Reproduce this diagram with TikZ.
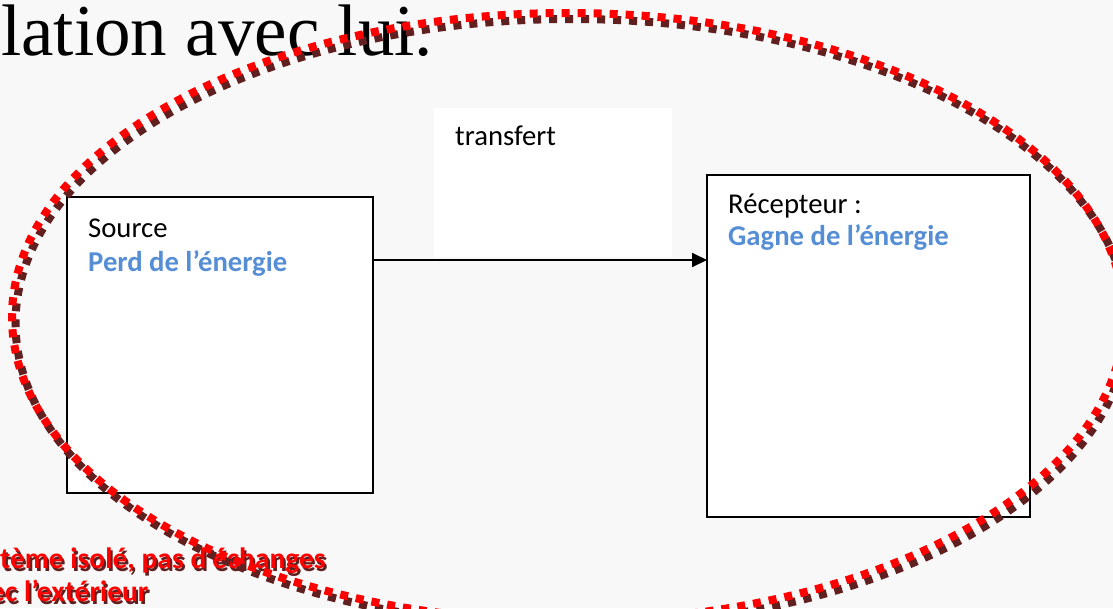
\documentclass[tikz,border=0pt]{standalone}
\usepackage{fontspec}
\setmainfont{Carlito}
\newfontfamily\bigserif{Liberation Serif}
\usetikzlibrary{arrows.meta}
\definecolor{bg}{RGB}{248,248,248}
\definecolor{ered}{RGB}{255,0,0}
\definecolor{eshadow}{RGB}{96,32,32}
\definecolor{eblue}{RGB}{85,142,213}
\tikzset{
  lbl/.style={anchor=base west, inner sep=0pt, font=\fontsize{28.7}{34}\selectfont},
  lblblue/.style={lbl, text=eblue, font=\fontsize{28.7}{34}\selectfont\bfseries},
  redtxt/.style={anchor=base west, inner sep=0pt, text=ered, font=\fontsize{29.5}{34}\selectfont\bfseries},
  shadowtxt/.style={redtxt, text=eshadow},
  boxnode/.style={draw=black, line width=2pt, fill=white, anchor=north west, inner sep=0pt, outer sep=0pt},
  dotline/.style={line width=8pt, dash pattern=on 8pt off 8pt},
  conn/.style={line width=2pt, -{Triangle[length=15pt,width=14pt]}}
}
\begin{document}
\begin{tikzpicture}[x=1pt,y=-1pt]
\useasboundingbox (0,0) rectangle (1113,608);
\clip (0,0) rectangle (1113,608);
\fill[bg] (0,0) rectangle (1113,608);
% title fragment
\node[anchor=base west, inner sep=0pt, font=\bigserif\fontsize{73}{80}\selectfont] (title) at (1,55) {lation avec lui.};
% boxes
\node[fill=white, anchor=north west, inner sep=0pt, minimum width=238pt, minimum height=149pt] (tbox) at (434,108) {};
\node[lbl] (ttxt) at (455,145) {transfert};
\node[boxnode, minimum width=306pt, minimum height=296pt] (src) at (67,197) {};
\node[boxnode, minimum width=323pt, minimum height=342pt] (rec) at (707,175) {};
\node[lbl] (srct) at (88,237) {Source};
\node[lblblue] (srcb) at (88,271) {Perd de l’énergie};
\node[lbl] (rect) at (728,213) {Récepteur :};
\node[lblblue] (recb) at (728,245) {Gagne de l’énergie};
\coordinate (ay) at (0,260);
\draw[conn] (src.east |- ay) -- (rec.west |- ay);
% red caption
\node[shadowtxt] (cap1s) at (2,571) {tème isolé, pas d’échanges};
\node[redtxt] (cap1) at (0,568) {tème isolé, pas d’échanges};
\node[shadowtxt] (cap2s) at (-8,604) {ec l’extérieur};
\node[redtxt] (cap2) at (-10,601) {ec l’extérieur};
% dotted ellipse with shadow
\draw[eshadow, dotline] (571.5,323) ellipse [x radius=556, y radius=304];
\draw[ered, dotline] (568,317) ellipse [x radius=556, y radius=304];
\end{tikzpicture}
\end{document}
